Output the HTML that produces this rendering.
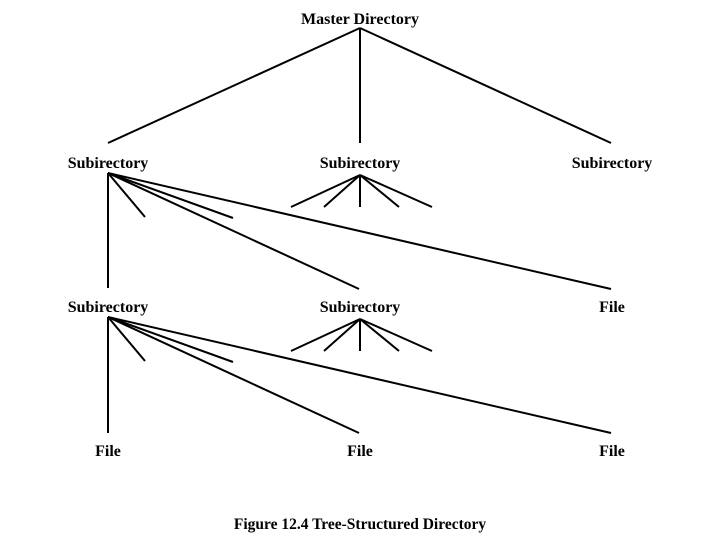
<!DOCTYPE html>
<html><head><meta charset="utf-8"><style>
html,body{margin:0;padding:0;background:#fff;}
svg{display:block;}
text{font-family:"Liberation Serif",serif;font-weight:bold;fill:#000;}
</style></head><body>
<svg width="720" height="540" viewBox="0 0 720 540" xmlns="http://www.w3.org/2000/svg">
<g stroke="#000" stroke-width="2" stroke-linecap="butt" fill="none">
<line x1="360" y1="28" x2="108" y2="143"/>
<line x1="360" y1="28" x2="360" y2="143"/>
<line x1="360" y1="28" x2="611" y2="143"/>

<line x1="108" y1="173" x2="108" y2="288"/>
<line x1="108" y1="173" x2="145" y2="217"/>
<line x1="108" y1="173" x2="233" y2="218"/>
<line x1="108" y1="173" x2="359" y2="289"/>
<line x1="108" y1="173" x2="611" y2="289"/>

<line x1="360" y1="175" x2="291" y2="207"/>
<line x1="360" y1="175" x2="324" y2="207"/>
<line x1="360" y1="175" x2="360" y2="207"/>
<line x1="360" y1="175" x2="399" y2="207"/>
<line x1="360" y1="175" x2="432" y2="207"/>

<line x1="108" y1="317" x2="108" y2="433"/>
<line x1="108" y1="317" x2="145" y2="361"/>
<line x1="108" y1="317" x2="233" y2="362"/>
<line x1="108" y1="317" x2="359" y2="433"/>
<line x1="108" y1="317" x2="611" y2="433"/>

<line x1="360" y1="319" x2="291" y2="351"/>
<line x1="360" y1="319" x2="324" y2="351"/>
<line x1="360" y1="319" x2="360" y2="351"/>
<line x1="360" y1="319" x2="399" y2="351"/>
<line x1="360" y1="319" x2="432" y2="351"/>
</g>
<g font-size="16" text-anchor="middle">
<text x="360" y="24">Master Directory</text>
<text x="108" y="168">Subirectory</text>
<text x="360" y="168">Subirectory</text>
<text x="612" y="168">Subirectory</text>
<text x="108" y="312">Subirectory</text>
<text x="360" y="312">Subirectory</text>
<text x="612" y="312">File</text>
<text x="108" y="456">File</text>
<text x="360" y="456">File</text>
<text x="612" y="456">File</text>
<text x="360" y="529" font-size="15.5">Figure 12.4  Tree-Structured Directory</text>
</g>
</svg>
</body></html>
